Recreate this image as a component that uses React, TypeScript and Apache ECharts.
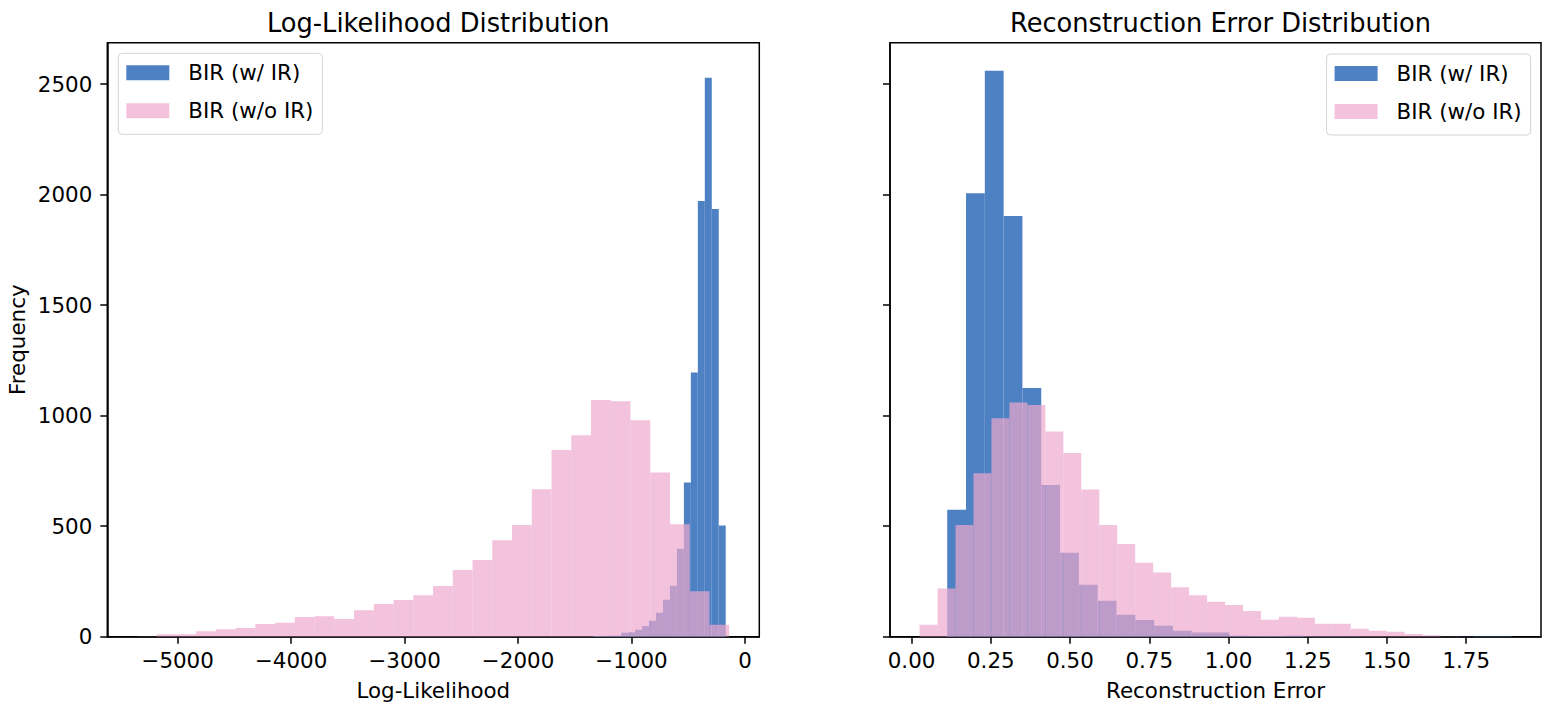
import React, { useEffect, useRef } from "react";
import * as echarts from "echarts";

// ---------- data ----------
const SERIES_A = "BIR (w/ IR)";
const SERIES_B = "BIR (w/o IR)";

// Log-likelihood histograms: bin range [lo, hi] and counts
const llBlueRange = [-1337, -170];
const llBlueCounts = [3, 3, 4, 4, 18, 20, 31, 48, 72, 108, 167, 230, 398, 698, 1196, 1972, 2529, 1936, 503];
const llPinkRange = [-5359, -139];
const llPinkCounts = [1, 11, 11, 25, 34, 39, 57, 63, 89, 93, 80, 120, 148, 166, 188, 229, 302, 347, 437, 505, 667, 845, 912, 1071, 1066, 980, 743, 509, 206, 54];

// Reconstruction-error histograms
const reBlueRange = [0.1125, 1.893];
const reBlueCounts = [575, 2007, 2561, 1904, 1125, 686, 380, 235, 163, 99, 76, 50, 27, 19, 19, 4, 3, 3, 4, 1, 1, 1, 0, 0, 0, 0, 0, 1, 2, 2];
const rePinkRange = [0.0254, 1.726];
const rePinkCounts = [54, 218, 505, 740, 988, 1060, 1048, 929, 831, 666, 505, 420, 335, 290, 224, 188, 158, 144, 116, 77, 90, 86, 59, 59, 36, 27, 22, 12, 7, 1];

// axis ticks
const llXTicks = [-5000, -4000, -3000, -2000, -1000, 0];
const reXTicks = [0, 0.25, 0.5, 0.75, 1.0, 1.25, 1.5, 1.75];
const yTicks = [0, 500, 1000, 1500, 2000, 2500];

const BLUE = "#4e80c4";
const PINK = "rgba(238,168,205,0.7)";
const FONT = "DejaVu Sans";
const FS = 21.4;
const TITLE_FS = 25.7;

function bins(range: number[], counts: number[]) {
  const [lo, hi] = range;
  const w = (hi - lo) / counts.length;
  return counts.map((c, i) => [lo + i * w, lo + (i + 1) * w, c]);
}

function histSeries(name: string, color: string, axis: number, data: number[][]) {
  return {
    type: "custom",
    name,
    xAxisIndex: axis,
    yAxisIndex: axis,
    clip: true,
    itemStyle: { color },
    encode: { x: [0, 1], y: 2 },
    data,
    renderItem: (params: any, api: any) => {
      const x0 = api.value(0);
      const x1 = api.value(1);
      const y = api.value(2);
      const p0 = api.coord([x0, 0]);
      const p1 = api.coord([x1, y]);
      return {
        type: "rect",
        shape: { x: p0[0], y: p1[1], width: p1[0] - p0[0], height: p0[1] - p1[1] },
        style: { fill: color },
      };
    },
  };
}

const black = "#000";
const lineStyle = { color: black, width: 1.5 };
const tickFont = { fontSize: FS, color: black, fontFamily: FONT };

function xAxis(idx: number, min: number, max: number, ticks: number[], fmt: (v: number) => string, name: string) {
  return {
    type: "value",
    gridIndex: idx,
    min,
    max,
    splitLine: { show: false },
    axisLine: { show: true, onZero: false, lineStyle },
    axisTick: { show: true, length: 7, customValues: ticks, lineStyle },
    axisLabel: { ...tickFont, margin: 13, customValues: ticks, formatter: fmt },
    name,
    nameLocation: "middle",
    nameGap: 43,
    nameTextStyle: { fontSize: FS, color: black, fontFamily: FONT },
  };
}

function yAxis(idx: number, showLabels: boolean) {
  return {
    type: "value",
    gridIndex: idx,
    min: 0,
    max: 2688,
    splitLine: { show: false },
    axisLine: { show: true, onZero: false, lineStyle },
    axisTick: { show: true, length: 7, customValues: yTicks, lineStyle },
    axisLabel: { show: showLabels, ...tickFont, margin: 15, customValues: yTicks, formatter: (v: number) => String(v) },
    name: showLabels ? "Frequency" : "",
    nameLocation: "middle",
    nameGap: 79,
    nameTextStyle: { fontSize: FS, color: black, fontFamily: FONT },
  };
}

function legend(pos: any) {
  return {
    ...pos,
    orient: "vertical",
    data: [
      { name: SERIES_A, icon: "rect" },
      { name: SERIES_B, icon: "rect" },
    ],
    itemWidth: 43,
    itemHeight: 15,
    itemGap: 17,
    padding: [9, 9, 13, 8],
    backgroundColor: "rgba(255,255,255,0.8)",
    borderColor: "#d4d4d4",
    borderWidth: 1,
    borderRadius: 4,
    selectedMode: false,
    textStyle: { fontSize: FS, color: black, fontFamily: FONT, padding: [0, 0, 0, 14], lineHeight: 15 },
  };
}

const minusFmt = (v: number) => (v < 0 ? "\u2212" + Math.abs(v) : String(v));

export default function App() {
  const ref = useRef<HTMLDivElement>(null);
  useEffect(() => {
    document.body.style.margin = "0";
    if (!ref.current) return;
    const chart = echarts.init(ref.current, null, { renderer: "svg" });
    chart.setOption({
      animation: false,
      backgroundColor: "#fff",
      textStyle: { fontFamily: FONT },
      title: [
        {
          text: "Log-Likelihood Distribution",
          left: 433.3,
          top: 5,
          textAlign: "center",
          textStyle: { fontSize: TITLE_FS, fontWeight: "normal", color: black, fontFamily: FONT },
        },
        {
          text: "Reconstruction Error Distribution",
          left: 1215.5,
          top: 5,
          textAlign: "center",
          textStyle: { fontSize: TITLE_FS, fontWeight: "normal", color: black, fontFamily: FONT },
        },
      ],
      grid: [
        { left: 107.3, top: 42.7, width: 652, height: 594, show: true, borderColor: black, borderWidth: 1.5 },
        { left: 890, top: 42.7, width: 651, height: 594, show: true, borderColor: black, borderWidth: 1.5 },
      ],
      xAxis: [
        xAxis(0, -5620, 126, llXTicks, minusFmt, "Log-Likelihood"),
        xAxis(1, -0.068, 1.986, reXTicks, (v: number) => v.toFixed(2), "Reconstruction Error"),
      ],
      yAxis: [yAxis(0, true), yAxis(1, false)],
      legend: [legend({ left: 118.3, top: 53.3 }), legend({ right: 31.3, top: 54 })],
      series: [
        histSeries(SERIES_A, BLUE, 0, bins(llBlueRange, llBlueCounts)),
        histSeries(SERIES_B, PINK, 0, bins(llPinkRange, llPinkCounts)),
        histSeries(SERIES_A, BLUE, 1, bins(reBlueRange, reBlueCounts)),
        histSeries(SERIES_B, PINK, 1, bins(rePinkRange, rePinkCounts)),
      ],
    });
    return () => chart.dispose();
  }, []);
  return <div ref={ref} style={{ width: 1562, height: 712 }} />;
}
